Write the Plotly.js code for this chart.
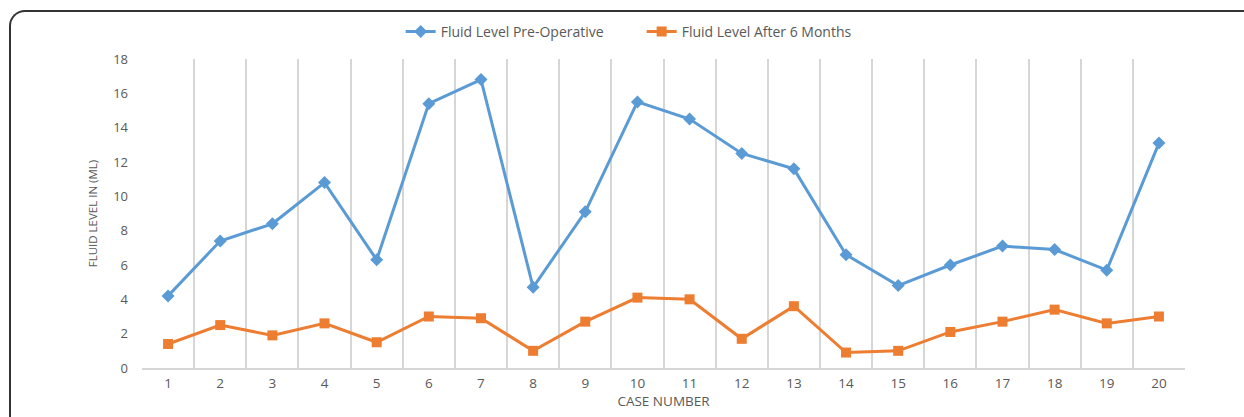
<!DOCTYPE html>
<html>
<head>
<meta charset="utf-8">
<script src="https://cdn.plot.ly/plotly-3.0.1.min.js"></script>
<style>
html,body{margin:0;padding:0;background:#fff;overflow:hidden;}
#wrap{position:relative;width:1244px;height:417px;}
#frame{position:absolute;left:9px;top:10px;width:1300px;height:500px;border-left:2px solid #333;border-top:2px solid #333;border-top-left-radius:16px;pointer-events:none;z-index:2;}
#chart{position:absolute;left:0;top:0;width:1244px;height:417px;}
</style>
</head>
<body>
<div id="wrap"><div id="chart"></div><div id="frame"></div></div>
<script>
const cases = ["1","2","3","4","5","6","7","8","9","10","11","12","13","14","15","16","17","18","19","20"];
const preOperative = [4.2,7.4,8.4,10.8,6.3,15.4,16.8,4.7,9.1,15.5,14.5,12.5,11.6,6.6,4.8,6.0,7.1,6.9,5.7,13.1];
const afterSixMonths = [1.4,2.5,1.9,2.6,1.5,3.0,2.9,1.0,2.7,4.1,4.0,1.7,3.6,0.9,1.0,2.1,2.7,3.4,2.6,3.0];
const seriesNames = ["Fluid Level Pre-Operative","Fluid Level After 6 Months"];
const xTitle = "CASE NUMBER";
const yTitle = "FLUID LEVEL IN (ML)";

const font = "'Open Sans', sans-serif";
const traces = [
  {x: cases, y: preOperative, name: seriesNames[0], type: "scatter", mode: "lines+markers",
   line: {color: "#5B9BD5", width: 3}, marker: {symbol: "diamond", size: 10, color: "#5B9BD5"}},
  {x: cases, y: afterSixMonths, name: seriesNames[1], type: "scatter", mode: "lines+markers",
   line: {color: "#ED7D31", width: 3}, marker: {symbol: "square", size: 10, color: "#ED7D31"}}
];
const layout = {
  width: 1244, height: 417,
  margin: {l: 142, r: 59, t: 59, b: 49},
  paper_bgcolor: "#fff", plot_bgcolor: "#fff",
  font: {family: font, color: "#595959", size: 12},
  showlegend: true,
  legend: {orientation: "h", x: 0.248, xanchor: "left", y: 1.088, yanchor: "middle",
           font: {family: font, size: 14, color: "#595959"}, itemwidth: 30, tracegroupgap: 0,
           entrywidth: 196, entrywidthmode: "pixels"},
  xaxis: {type: "category", range: [-0.5, 19.5], tickson: "boundaries", showgrid: true, gridcolor: "#d6d6d6", gridwidth: 2,
          showline: true, linecolor: "#d6d6d6", linewidth: 2, ticks: "", zeroline: false,
          tickfont: {size: 13.5, color: "#595959"}, ticklabelstandoff: 2,
          title: {text: xTitle, font: {size: 13.5, color: "#595959"}, standoff: 4}},
  yaxis: {range: [0, 18], dtick: 2, showgrid: false, zeroline: false, showline: false, ticks: "",
          tickfont: {size: 13, color: "#595959"}, ticklabelstandoff: 13,
          title: {text: yTitle, font: {size: 11.5, color: "#595959"}, standoff: 13}}
};
Plotly.newPlot("chart", traces, layout, {displayModeBar: false, staticPlot: true});
</script>
</body>
</html>
